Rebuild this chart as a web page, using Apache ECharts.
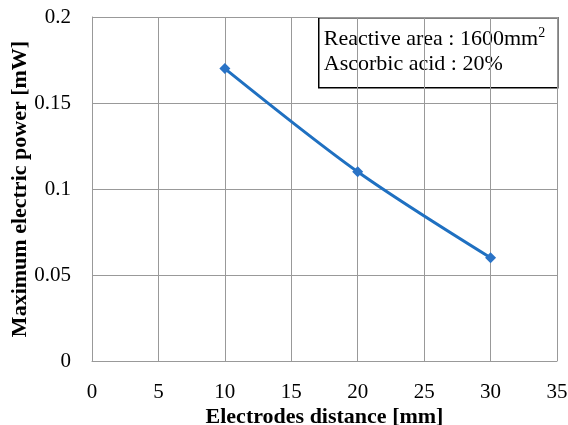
<!DOCTYPE html>
<html>
<head>
<meta charset="utf-8">
<script src="https://cdn.jsdelivr.net/npm/echarts@6/dist/echarts.min.js"></script>
<style>html,body{margin:0;padding:0;background:#fff}#c{width:568px;height:425px}</style>
</head>
<body>
<div id="c"></div>
<script>
const distances = [10, 20, 30];
const powers = [0.17, 0.11, 0.06];
const xTicks = [0, 5, 10, 15, 20, 25, 30, 35];
const yTicks = [0, 0.05, 0.1, 0.15, 0.2];
const xTitle = 'Electrodes distance [mm]';
const yTitle = 'Maximum electric power [mW]';
const noteLine1 = 'Reactive area : 1600mm';
const noteSup = '2';
const noteLine2 = 'Ascorbic acid : 20%';

const serif = '"Liberation Serif", "DejaVu Serif", serif';
const chart = echarts.init(document.getElementById('c'));
chart.setOption({
  animation: false,
  backgroundColor: '#fff',
  grid: { left: 92, right: 11, top: 17, bottom: 64, containLabel: false, outerBoundsMode: 'none' },
  xAxis: {
    type: 'value', min: xTicks[0], max: xTicks[xTicks.length - 1], interval: 5,
    name: xTitle, nameLocation: 'middle', nameGap: 45, nameMoveOverlap: false,
    nameTextStyle: { fontFamily: serif, fontWeight: 'bold', fontSize: 22, color: '#000' },
    axisLine: { show: true, lineStyle: { color: '#999', width: 1 } },
    axisTick: { show: false },
    axisLabel: { margin: 21, fontFamily: serif, fontSize: 21, color: '#000' },
    splitLine: { show: true, lineStyle: { color: '#999', width: 1 } }
  },
  yAxis: {
    type: 'value', min: yTicks[0], max: yTicks[yTicks.length - 1], interval: 0.05,
    name: yTitle, nameLocation: 'middle', nameGap: 61, nameMoveOverlap: false,
    nameTextStyle: { fontFamily: serif, fontWeight: 'bold', fontSize: 22, color: '#000' },
    axisLine: { show: true, lineStyle: { color: '#999', width: 1 } },
    axisTick: { show: false },
    axisLabel: { margin: 21, fontFamily: serif, fontSize: 21, color: '#000' },
    splitLine: { show: true, lineStyle: { color: '#999', width: 1 } }
  },
  series: [{
    type: 'line',
    data: distances.map((d, i) => [d, powers[i]]),
    smooth: 0.3,
    symbol: 'diamond',
    symbolSize: 11,
    lineStyle: { color: '#1F70C1', width: 3 },
    itemStyle: { color: '#2A73C6' }
  }],
  graphic: [{
    type: 'group', left: 318, top: 17,
    children: [
      { type: 'rect', shape: { x: 0, y: 0, width: 239, height: 70 },
        style: { fill: '#fff', stroke: '#000', lineWidth: 1.5 } },
      { type: 'text', x: 5, y: 9,
        style: { text: '{a|' + noteLine1 + '}{s|' + noteSup + '}\n{a|' + noteLine2 + '}',
          rich: {
            a: { fontFamily: serif, fontSize: 22, lineHeight: 25, fill: '#000' },
            s: { fontFamily: serif, fontSize: 14, lineHeight: 25, verticalAlign: 'top', fill: '#000', padding: [0,0,10,0] }
          } } }
    ]
  }]
});
</script>
</body>
</html>
